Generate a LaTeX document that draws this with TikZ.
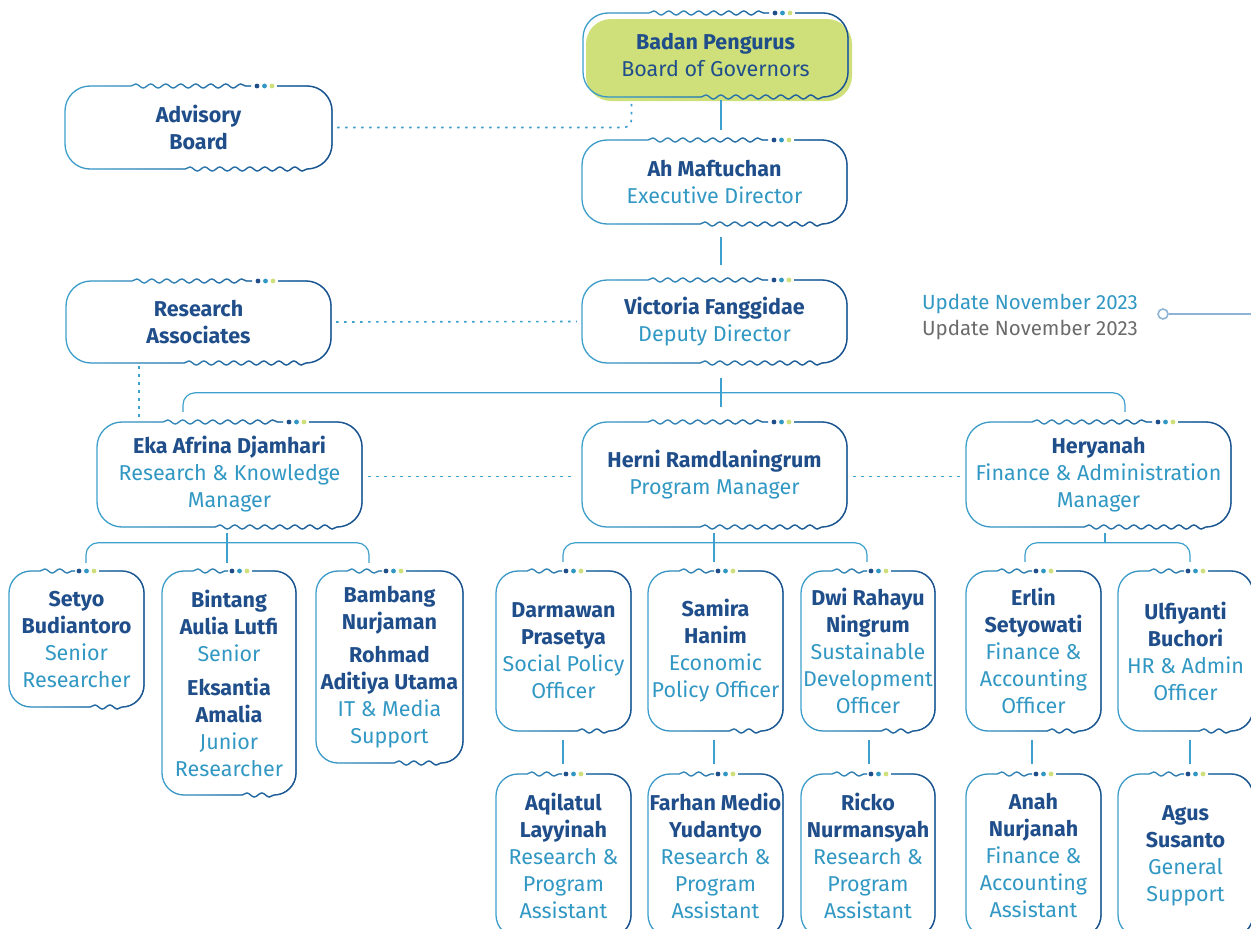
\documentclass[tikz,border=0pt]{standalone}
\usepackage{fontspec}
\setmainfont{Fira Sans}
\usetikzlibrary{decorations.pathmorphing, fadings}

\definecolor{navy}{HTML}{1F4E8A}
\definecolor{sky}{HTML}{3197C3}
\definecolor{rim}{HTML}{3EA0CC}
\definecolor{lime}{HTML}{CFE07A}
\definecolor{pin}{HTML}{8DB3D5}
\definecolor{ash}{HTML}{6B6B6B}

\newcommand{\who}[1]{{\bfseries\color{navy}#1}}

% rounded card with a wavy top and bottom, and three dots on top
\newcommand{\waveframe}[9]{%
  \def\framepath{(#1,{#2+#5}) arc[start angle=180,end angle=90,radius=#5pt]
    -- ({#1+#6},#2) decorate[decoration={snake,amplitude=2pt,segment length=15pt}]{ -- ({#1+#7},#2) }
    ({#1+#8},#2) -- ({#3-#5},#2) arc[start angle=90,end angle=0,radius=#5pt]
    -- (#3,{#4-#5}) arc[start angle=0,end angle=-90,radius=#5pt]
    decorate[decoration={snake,amplitude=2pt,segment length=15pt}]{ -- ({#1+#9},#4) }
    -- ({#1+#5},#4) arc[start angle=270,end angle=180,radius=#5pt] -- (#1,{#2+#5})}%
  \draw[rimlight] \framepath;
  \draw[rimdark, path fading=west] \framepath;
  \fill[navy] ({#1+#8-20},#2) circle[radius=2.4pt];
  \fill[sky] ({#1+#8-12.5},#2) circle[radius=2.4pt];
  \fill[lime] ({#1+#8-5},#2) circle[radius=2.4pt];
}
\newcommand{\bigframe}[4]{\waveframe{#1}{#2}{#3}{#4}{25}{66}{186}{212}{117}}
\newcommand{\smallframe}[4]{\waveframe{#1}{#2}{#3}{#4}{22}{31}{66}{90}{76}}
% name, x1, y1, x2, y2, text
\newcommand{\cardnode}[6]{%
  \node[card, minimum width={(#4-#2)*1pt}, minimum height={(#5-#3)*1pt}] (#1) at ({(#2+#4)/2},{(#3+#5)/2}) {#6};}

\begin{document}
\begin{tikzpicture}[x=1pt, y=-1pt,
  rimlight/.style={draw=rim, line width=1.3pt},
  rimdark/.style={draw=navy, line width=1.3pt},
  card/.style={inner sep=0pt, align=center, text=sky, font=\fontsize{21.5}{27}\selectfont},
  conn/.style={draw=rim, line width=1.2pt},
  dotline/.style={draw=rim, line width=1.6pt, dash pattern=on 2.5pt off 5.5pt}]
\useasboundingbox (0,0) rectangle (1251,929);

% Badan Pengurus
\fill[lime, rounded corners=25pt] (586,19) rectangle (852,101);
\bigframe{583}{13}{848}{97}
\cardnode{badan}{583}{13}{848}{97}{\who{Badan Pengurus}\\{\color{navy}Board of Governors}}
% Advisory Board
\bigframe{65}{86}{332}{169}
\cardnode{adv}{65}{86}{332}{169}{\who{Advisory}\\\who{Board}}
% Executive Director
\bigframe{582}{140}{847}{224}
\cardnode{ah}{582}{140}{847}{224}{\who{Ah Maftuchan}\\Executive Director}
% Deputy Director
\bigframe{582}{280}{847}{363}
\cardnode{vic}{582}{280}{847}{363}{\who{Victoria Fanggidae}\\Deputy Director}
% Research Associates
\bigframe{66}{281}{331}{363}
\cardnode{ra}{66}{281}{331}{363}{\who{Research}\\\who{Associates}}

% managers
\bigframe{97}{422}{362}{527}
\cardnode{eka}{97}{422}{362}{527}{\who{Eka Afrina Djamhari}\\Research \& Knowledge\\Manager}
\bigframe{582}{422}{847}{527}
\cardnode{herni}{582}{422}{847}{527}{\who{Herni Ramdlaningrum}\\Program Manager}
\bigframe{966}{422}{1231}{527}
\cardnode{hery}{966}{422}{1231}{527}{\who{Heryanah}\\Finance \& Administration\\Manager}

% staff
\smallframe{9}{571}{144}{707}
\cardnode{setyo}{9}{571}{144}{707}{\who{Setyo}\\\who{Budiantoro}\\Senior\\Researcher}
\smallframe{162}{571}{296}{795}
\cardnode{bintang}{162}{571}{296}{795}{\who{Bintang}\\\who{Aulia Lutfi}\\Senior\\[7pt]\who{Eksantia}\\\who{Amalia}\\Junior\\Researcher}
\smallframe{316}{571}{463}{763}
\cardnode{bambang}{316}{571}{463}{763}{\who{Bambang}\\\who{Nurjaman}\\[6pt]\who{Rohmad}\\\who{Aditiya Utama}\\IT \& Media\\Support}
\smallframe{496}{571}{631}{731}
\cardnode{darm}{496}{571}{631}{731}{\who{Darmawan}\\\who{Prasetya}\\Social Policy\\Officer}
\smallframe{648}{571}{783}{731}
\cardnode{samira}{648}{571}{783}{731}{\who{Samira}\\\who{Hanim}\\Economic\\Policy Officer}
\smallframe{801}{571}{935}{731}
\cardnode{dwi}{801}{571}{935}{731}{\who{Dwi Rahayu}\\\who{Ningrum}\\Sustainable\\Development\\Officer}
\smallframe{966}{571}{1101}{731}
\cardnode{erlin}{966}{571}{1101}{731}{\who{Erlin}\\\who{Setyowati}\\Finance \&\\Accounting\\Officer}
\smallframe{1118}{571}{1253}{731}
\cardnode{ulfi}{1118}{571}{1253}{731}{\who{Ulfiyanti}\\\who{Buchori}\\HR \& Admin\\Officer}

% assistants
\smallframe{496}{774}{631}{937}
\cardnode{aqil}{496}{774}{631}{937}{\who{Aqilatul}\\\who{Layyinah}\\Research \&\\Program\\Assistant}
\smallframe{648}{774}{783}{937}
\cardnode{farhan}{648}{774}{783}{937}{\who{Farhan Medio}\\\who{Yudantyo}\\Research \&\\Program\\Assistant}
\smallframe{801}{774}{935}{937}
\cardnode{ricko}{801}{774}{935}{937}{\who{Ricko}\\\who{Nurmansyah}\\Research \&\\Program\\Assistant}
\smallframe{966}{774}{1101}{937}
\cardnode{anah}{966}{774}{1101}{937}{\who{Anah}\\\who{Nurjanah}\\Finance \&\\Accounting\\Assistant}
\smallframe{1118}{774}{1253}{937}
\cardnode{agus}{1118}{774}{1253}{937}{\who{Agus}\\\who{Susanto}\\General\\Support}

% update note
\node[anchor=east, align=right, inner sep=0pt, font=\fontsize{20.5}{26}\selectfont] (upd) at (1138,317) {{\color{sky}Update November 2023}\\{\color{ash}Update November 2023}};
\node[draw=pin, circle, line width=1.6pt, minimum size=10pt, inner sep=0pt] (pinhead) at (1163,314) {};
\coordinate (pinend) at (1251,314);
\draw[draw=pin, line width=1.2pt] (pinhead) -- (pinend);

% solid lines
\draw[conn] ([xshift=5.5pt,yshift=-3pt]badan.south) -- ([xshift=6.5pt,yshift=10pt]ah.north);
\draw[conn] ([xshift=6.5pt,yshift=-13pt]ah.south) -- ([xshift=6.5pt,yshift=15pt]vic.north);
\draw[conn] ([xshift=6.5pt,yshift=-15pt]vic.south) -- ([xshift=6.5pt,yshift=15pt]herni.north);
\draw[conn, rounded corners=12pt] ([xshift=-46.5pt,yshift=10pt]eka.north) |- ([xshift=26.5pt,yshift=29pt]hery.north) -- ([xshift=26.5pt,yshift=10pt]hery.north);

\draw[conn] ([xshift=-2.5pt,yshift=-6pt]eka.south) -- ([xshift=-2pt,yshift=8pt]bintang.north);
\draw[conn, rounded corners=12pt] ([xshift=9.5pt,yshift=8pt]setyo.north) |- ([xshift=-20.5pt,yshift=28pt]bambang.north) -- ([xshift=-20.5pt,yshift=8pt]bambang.north);
\draw[conn] ([xshift=-0.5pt,yshift=-6pt]herni.south) -- ([xshift=-1.5pt,yshift=9pt]samira.north);
\draw[conn, rounded corners=12pt] ([xshift=-0.5pt,yshift=9pt]darm.north) |- ([xshift=-1pt,yshift=28pt]dwi.north) -- ([xshift=-1pt,yshift=9pt]dwi.north);
\draw[conn] ([xshift=6.5pt,yshift=-6pt]hery.south) -- ++(0,10);
\draw[conn, rounded corners=12pt] ([xshift=-8.5pt,yshift=9pt]erlin.north) |- ([xshift=4.5pt,yshift=28pt]ulfi.north) -- ([xshift=4.5pt,yshift=9pt]ulfi.north);

\draw[conn] ([xshift=-0.5pt,yshift=-9pt]darm.south) -- ([xshift=-0.5pt,yshift=10pt]aqil.north);
\draw[conn] ([xshift=-1.5pt,yshift=-9pt]samira.south) -- ([xshift=-1.5pt,yshift=10pt]farhan.north);
\draw[conn] ([xshift=1pt,yshift=-9pt]dwi.south) -- ([xshift=1pt,yshift=10pt]ricko.north);
\draw[conn] ([xshift=-1.5pt,yshift=-9pt]erlin.south) -- ([xshift=-1.5pt,yshift=10pt]anah.north);
\draw[conn] ([xshift=4.5pt,yshift=-9pt]ulfi.south) -- ([xshift=4.5pt,yshift=10pt]agus.north);

% dotted lines
\draw[dotline, rounded corners=8pt] ([xshift=5pt]adv.east) -| ([xshift=-84pt,yshift=-3pt]badan.south);
\draw[dotline] ([xshift=5pt]ra.east) -- ([xshift=-5pt]vic.west);
\draw[dotline] ([xshift=-59.5pt,yshift=-3pt]ra.south) -- ([xshift=-90.5pt,yshift=5pt]eka.north);
\draw[dotline] ([xshift=6pt,yshift=-2pt]eka.east) -- ([xshift=-6pt,yshift=-2pt]herni.west);
\draw[dotline] ([xshift=6pt,yshift=-2pt]herni.east) -- ([xshift=-6pt,yshift=-2pt]hery.west);
\end{tikzpicture}
\end{document}
